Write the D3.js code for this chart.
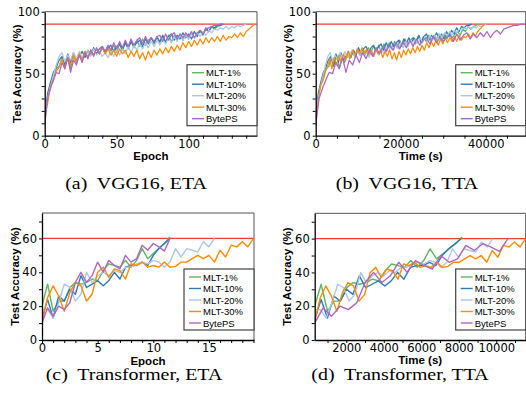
<!DOCTYPE html>
<html>
<head>
<meta charset="utf-8">
<script src="https://cdn.jsdelivr.net/npm/d3@7"></script>
<style>
  body { margin: 0; background: #fff; }
  svg { display: block; font-family: "Liberation Sans", Arial, sans-serif; }
</style>
</head>
<body>
<div class="canva"></div>
<script>
// ---- data ----
const seriesNames = ["MLT-1%", "MLT-10%", "MLT-20%", "MLT-30%", "BytePS"];
const seriesColors = ["#5cb85c", "#2b7bba", "#aec7e8", "#ff8c00", "#b066c6"];

// VGG16 test accuracy (%), one value every 2 epochs
const vggEpochStep = 2;
const vggMlt1 = [12, 32, 42, 46, 54, 56, 63, 57, 65, 54,
  64, 59, 66, 62, 68, 63, 69, 65, 70, 66,
  71, 67, 72, 68, 73, 67, 74, 69, 75, 70,
  76, 71, 77, 72, 78, 73, 77, 79, 74, 80,
  75, 80, 76, 81, 76, 81, 77, 82, 77, 82,
  78, 83, 79, 82, 84, 81, 86, 84, 88, 86,
  88, 89, 90];
const vggMlt10 = [14, 34, 43, 51, 55, 61, 64, 56, 66, 59,
  67, 61, 64, 68, 63, 69, 65, 71, 66, 70,
  72, 67, 71, 73, 68, 72, 74, 69, 75, 71,
  76, 72, 75, 77, 72, 78, 74, 79, 75, 79,
  76, 81, 75, 80, 82, 77, 81, 78, 83, 79,
  82, 78, 84, 80, 85, 82, 87, 84, 88, 87,
  89, 89, 90];
const vggMlt20 = [10, 30, 40, 48, 57, 64, 67, 60, 65, 61,
  67, 62, 68, 63, 66, 69, 64, 70, 65, 68,
  64, 67, 63, 68, 64, 69, 65, 70, 66, 72,
  67, 73, 69, 74, 70, 75, 71, 76, 72, 77,
  73, 78, 74, 79, 75, 80, 76, 81, 77, 81,
  78, 82, 79, 83, 80, 84, 81, 85, 83, 86,
  85, 87, 86, 88, 86, 88, 87, 89, 88, 89,
  90];
const vggMlt30 = [15, 26, 40, 44, 52, 55, 62, 54, 63, 57,
  65, 59, 66, 61, 68, 63, 69, 65, 70, 66,
  71, 66, 70, 65, 69, 64, 70, 66, 69, 63,
  68, 64, 69, 62, 67, 61, 68, 63, 69, 65,
  70, 66, 71, 67, 72, 68, 73, 69, 75, 71,
  76, 72, 77, 73, 78, 74, 79, 75, 79, 76,
  80, 76, 81, 77, 80, 79, 82, 79, 83, 80,
  84, 86, 88, 90];
const vggBytePS = [8, 30, 38, 45, 51, 50, 59, 54, 63, 51,
  61, 57, 65, 59, 67, 62, 69, 64, 71, 66,
  72, 68, 73, 69, 75, 70, 76, 71, 77, 72,
  78, 73, 77, 79, 74, 80, 75, 79, 76, 80,
  81, 76, 82, 77, 81, 83, 78, 82, 79, 83,
  80, 84, 79, 83, 85, 82, 86, 87, 88, 89,
  89, 90, 90];
// seconds per epoch for each scheme (VGG16)
const vggSecPerEpoch = [309, 296, 286, 272, 395];

// Transformer test accuracy (%), one value every half epoch
const tfEpochStep = 0.5;
const tfMlt1 = [20, 33, 17, 23, 23, 31, 34, 33, 34, 36, 35, 41, 45, 44, 43, 47, 43, 47, 54, 48, 51, 54, 57, 61];
const tfMlt10 = [12, 24, 13, 26, 23, 30, 27, 38, 31, 33, 35, 32, 35, 40, 36, 43, 44, 44, 46, 44, 50, 54, 57, 60];
const tfMlt20 = [18, 18, 13, 22, 33, 31, 23, 27, 40, 34, 38, 40, 38, 41, 40, 43, 43, 45, 46, 45, 47, 46, 43, 46,
  54, 49, 54, 53, 52, 58, 55, 60];
const tfMlt30 = [11, 25, 32, 26, 17, 28, 34, 32, 23, 27, 40, 43, 37, 42, 41, 36, 45, 44, 46, 43, 44, 43, 46, 43,
  43.5, 46, 46, 48, 50, 48, 50, 46, 53, 49, 56, 55, 58, 55, 60];
const tfBytePS = [10, 19, 14, 20, 18, 22, 34, 40, 34, 38, 46, 40, 47, 44, 42, 50, 46, 48, 56, 53, 57, 55, 52.5, 60];
const tfSecPerEpoch = [684, 680, 613, 592, 896];
const tfStartTime = 315;

const vggTarget = 90;
const tfTarget = 60;

const captions = ["(a)  VGG16, ETA", "(b)  VGG16, TTA", "(c)  Transformer, ETA", "(d)  Transformer, TTA"];

// ---- build the point lists ----
const vggAcc = [vggMlt1, vggMlt10, vggMlt20, vggMlt30, vggBytePS];
const tfAcc = [tfMlt1, tfMlt10, tfMlt20, tfMlt30, tfBytePS];

const vggByEpoch = vggAcc.map(a => a.map((v, j) => [j * vggEpochStep, v]));
const vggByTime = vggAcc.map((a, i) => a.map((v, j) => [j * vggEpochStep * vggSecPerEpoch[i], v]));
const tfByEpoch = tfAcc.map(a => a.map((v, j) => [j * tfEpochStep, v]));
const tfByTime = tfAcc.map((a, i) => a.map((v, j) => [tfStartTime + j * tfEpochStep * tfSecPerEpoch[i], v]));

const svg = d3.select(".canva").append("svg")
  .attr("width", 526)
  .attr("height", 398);

const panels = [
  {id: "a", left: 44.7, top: 11.7, w: 212.3, h: 124, xDomain: [0, 147.5], yDomain: [0, 100],
   xMinor: d3.range(0, 141, 10), xMajor: [0, 50, 100], yMinor: d3.range(0, 101, 10), yMajor: [0, 50, 100],
   xLabel: "Epoch", data: vggByEpoch, target: vggTarget, lw: 1.25, xPad: 1.5},
  {id: "b", left: 315.7, top: 11.7, w: 210, h: 124, xDomain: [0, 49400], yDomain: [0, 100],
   xMinor: d3.range(0, 45001, 5000), xMajor: [0, 20000, 40000], yMinor: d3.range(0, 101, 10), yMajor: [0, 50, 100],
   xLabel: "Time (s)", data: vggByTime, target: vggTarget, lw: 1.25, xPad: 1.5},
  {id: "c", left: 42, top: 213, w: 212, h: 127, xDomain: [0, 19.05], yDomain: [0, 75],
   xMinor: d3.range(0, 20, 1), xMajor: [0, 5, 10, 15], yMinor: d3.range(0, 71, 10), yMajor: [0, 20, 40, 60],
   xLabel: "Epoch", data: tfByEpoch, target: tfTarget, lw: 1.4, xPad: 0.5},
  {id: "d", left: 314.7, top: 213.3, w: 211, h: 126.7, xDomain: [315, 11570], yDomain: [0, 75],
   xMinor: d3.range(1000, 11001, 1000), xMajor: [2000, 4000, 6000, 8000, 10000], yMinor: d3.range(0, 71, 10), yMajor: [0, 20, 40, 60],
   xLabel: "Time (s)", data: tfByTime, target: tfTarget, lw: 1.4, xPad: 0.5}
];

function drawPanel(p) {
  const g = svg.append("g").attr("transform", `translate(${p.left},${p.top})`);
  const x = d3.scaleLinear().domain(p.xDomain).range([0, p.w]);
  const y = d3.scaleLinear().domain(p.yDomain).range([p.h, 0]);

  g.append("clipPath").attr("id", "clip-" + p.id)
    .append("rect").attr("width", p.w).attr("height", p.h);

  // top / right frame
  g.append("path")
    .attr("d", `M0,0H${p.w}V${p.h}`)
    .attr("fill", "none")
    .attr("stroke", "#555")
    .attr("stroke-width", 1);

  // target accuracy
  g.append("line")
    .attr("x1", 0).attr("x2", p.w)
    .attr("y1", y(p.target)).attr("y2", y(p.target))
    .attr("stroke", "#f03c3c")
    .attr("stroke-width", 1.2);

  const line = d3.line().x(d => x(d[0])).y(d => y(d[1]));
  p.data.forEach((pts, i) => {
    g.append("path")
      .datum(pts)
      .attr("clip-path", `url(#clip-${p.id})`)
      .attr("d", line)
      .attr("fill", "none")
      .attr("stroke", seriesColors[i])
      .attr("stroke-width", p.lw)
      .attr("stroke-linejoin", "round");
  });

  const fmt = d3.format("d");
  const xAxis = g.append("g")
    .attr("transform", `translate(0,${p.h})`)
    .call(d3.axisBottom(x).tickValues(p.xMinor).tickSizeInner(3).tickSizeOuter(0).tickPadding(p.xPad)
      .tickFormat(d => p.xMajor.includes(d) ? fmt(d) : ""));
  const yAxis = g.append("g")
    .call(d3.axisLeft(y).tickValues(p.yMinor).tickSizeInner(3).tickSizeOuter(0).tickPadding(2)
      .tickFormat(d => p.yMajor.includes(d) ? fmt(d) : ""));
  [xAxis, yAxis].forEach(a => {
    a.attr("font-family", "'DejaVu Sans', sans-serif").attr("font-size", 11.5);
    a.select(".domain").attr("stroke", "#000").attr("stroke-width", 1.3);
    a.selectAll(".tick line").attr("stroke", "#000");
    a.selectAll(".tick text").attr("fill", "#000");
  });

  g.append("text")
    .attr("x", p.w / 2)
    .attr("y", p.h + 24.5)
    .attr("text-anchor", "middle")
    .attr("font-weight", "bold")
    .attr("font-size", 11.5)
    .text(p.xLabel);

  g.append("text")
    .attr("transform", `translate(-27.5,${p.h / 2}) rotate(-90)`)
    .attr("text-anchor", "middle")
    .attr("dominant-baseline", "central")
    .attr("font-weight", "bold")
    .attr("font-size", 11.5)
    .text("Test Accuracy (%)");

  // legend, tucked in the lower right corner
  const lgW = 70, lgH = 61;
  const lg = g.append("g")
    .attr("transform", `translate(${p.w - lgW},${p.h - lgH - 10})`);
  lg.append("rect")
    .attr("width", lgW).attr("height", lgH)
    .attr("fill", "#fff")
    .attr("stroke", "#444")
    .attr("stroke-width", 1.2);
  seriesNames.forEach((name, i) => {
    const ry = 8 + i * 11.5;
    lg.append("line")
      .attr("x1", 5).attr("x2", 17)
      .attr("y1", ry).attr("y2", ry)
      .attr("stroke", seriesColors[i])
      .attr("stroke-width", 1.4);
    lg.append("text")
      .attr("x", 19)
      .attr("y", ry)
      .attr("dominant-baseline", "central")
      .attr("font-size", 9.5)
      .text(name);
  });
}

panels.forEach(drawPanel);

// sub-figure captions
const captionPos = [[136, 189], [407, 189], [134, 380], [400, 380]];
captions.forEach((c, i) => {
  svg.append("text")
    .attr("transform", `translate(${captionPos[i][0]},${captionPos[i][1]}) scale(1.17,1)`)
    .attr("text-anchor", "middle")
    .attr("font-family", "'Liberation Serif', 'Times New Roman', serif")
    .attr("font-size", 17)
    .style("white-space", "pre")
    .text(c);
});
</script>
</body>
</html>
